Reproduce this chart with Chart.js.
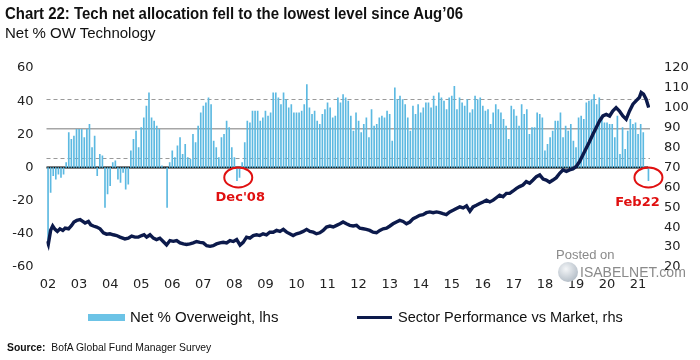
<!DOCTYPE html>
<html>
<head>
<meta charset="utf-8">
<script src="https://cdn.jsdelivr.net/npm/chart.js@4.4.1/dist/chart.umd.min.js"></script>
<style>
  body { margin: 0; background: #fff; }
  #wrap { position: relative; width: 700px; height: 360px; overflow: hidden; font-family: "Liberation Sans", Arial, sans-serif; color: #111; }
  #graph { position: absolute; left: 0; top: 0; }
  .txt { position: absolute; white-space: nowrap; line-height: 1; transform-origin: 0 0; }
  #title { left: 5px; top: 6px; font-size: 16px; font-weight: bold; transform: scaleX(0.935); }
  #subtitle { left: 5px; top: 25px; font-size: 15px; }
  .swatch { position: absolute; }
  #source { left: 7px; top: 342px; font-size: 11.5px; transform: scaleX(0.9); }
  .wm { color: #8a8a8a; }
</style>
</head>
<body>
<div id="wrap">
  <canvas id="graph" width="700" height="360"></canvas>
  <div class="txt" id="title">Chart 22: Tech net allocation fell to the lowest level since Aug’06</div>
  <div class="txt" id="subtitle">Net % OW Technology</div>

  <div class="swatch" style="left:88px;top:314px;width:37px;height:7px;background:#6cc3e6"></div>
  <div class="txt" style="left:130px;top:309px;font-size:15px">Net % Overweight, lhs</div>
  <div class="swatch" style="left:357px;top:316px;width:35px;height:3px;background:#0c1a4b"></div>
  <div class="txt" style="left:398px;top:309px;font-size:15px;transform:scaleX(0.97)">Sector Performance vs Market, rhs</div>

  <div class="txt" id="source"><b>Source:</b>&nbsp; BofA Global Fund Manager Survey</div>

  <div class="txt wm" style="left:556px;top:248px;font-size:13px">Posted on</div>
  <div class="swatch" style="left:558px;top:262px;width:20px;height:20px;border-radius:50%;background:radial-gradient(circle at 40% 35%, #f4f6f8, #b9c2cb 70%, #9aa6b0)"></div>
  <div class="txt wm" style="left:580px;top:265px;font-size:14px">ISABELNET.com</div>
</div>

<script>
// months counted from the first survey bar (label "02")
var yearLabels = ['02', '03', '04', '05', '06', '07', '08', '09', '10', '11',
                  '12', '13', '14', '15', '16', '17', '18', '19', '20', '21'];

// Net % overweight technology, one value per month (lhs)
var netOW = [
  -46, -15, -5, -7, -4, -6, -4, 3, 21, 17, 19, 23,
  23, 23, 18, 23, 26, 12, 19, -5, 8, 7, -24, -16,
  -11, 3, 4, -7, -9, -3, -13, -10, 10, 17, 22, 12,
  24, 30, 37, 45, 30, 28, 25, 23, 1, 0, -24, 3,
  10, 6, 13, 18, 8, 14, 6, 5, 20, 15, 25, 33,
  37, 39, 42, 38, 16, 12, 6, 18, 20, 28, 24, 12,
  6, -8, -6, 3, 15, 28, 27, 34, 34, 34, 28, 30,
  34, 31, 33, 45, 45, 42, 38, 45, 41, 36, 38, 33,
  33, 33, 34, 38, 50, 36, 32, 34, 28, 26, 32, 35,
  39, 36, 30, 31, 42, 39, 44, 42, 40, 31, 22, 33,
  28, 21, 26, 30, 18, 35, 25, 26, 30, 31, 30, 34,
  32, 16, 48, 41, 43, 41, 38, 30, 22, 37, 32, 38,
  33, 36, 39, 39, 36, 43, 37, 45, 42, 40, 35, 42,
  43, 49, 35, 42, 39, 37, 41, 33, 35, 43, 41, 42,
  37, 34, 35, 26, 33, 38, 35, 33, 29, 25, 17, 37,
  35, 31, 25, 38, 32, 35, 20, 24, 24, 33, 32, 30,
  10, 14, 18, 22, 28, 28, 33, 18, 25, 22, 26, 16,
  12, 30, 31, 29, 39, 40, 41, 44, 38, 42, 30, 27,
  27, 26, 26, 18, 31, 8, 24, 11, 22, 29, 26, 27,
  20, 26, 21, null, -8
];

// Sector performance vs market (rhs), read along the month scale
var perfMonths = [
  -0.3, 0.1, 1, 1.8, 2.7, 3.6, 4.6, 5.7, 6.6, 7.9, 9.1, 10, 11.1, 12.4, 13.4, 14.3, 15.6, 16.5, 17.5, 18.8,
  20.1, 21.4, 22.6, 23.9, 25.2, 26.5, 27.8, 29.7, 31, 32.3, 33.6, 34.9, 36.2, 37.1,
  38.1, 39.4, 40.7, 41.9, 43.2, 44.5, 45.8, 47.1, 48.4, 49.7, 51, 52.3, 53.5, 54.8, 56.1, 57.4, 58.7, 60,
  61.3, 62.6, 63.8, 65.1, 66.4, 67.7, 69, 70.3, 71.6, 72.9, 74.2,
  75.4, 76.7, 78, 79.3, 80.6, 81.8, 83.1, 84.4, 85.7, 87, 88.3, 89.6, 90.9, 92.2, 93.4, 94.7, 96, 97.3,
  98.6, 99.9, 101.2, 102.5, 103.7, 105, 106.3, 107.6, 108.9, 110.2, 111.5, 112.8,
  114, 115.3, 116.6, 117.9, 119.2, 120.5, 121.8, 123, 124.3, 125.6, 126.9, 128.2, 129.5, 130.8, 132.1,
  133.3, 134.6, 135.9, 137.2, 138.5, 139.8, 141.1, 142.4, 143.6, 144.9, 146.2, 147.5, 148.8, 150.1, 151.4,
  152.6, 153.9, 155.2, 156.5, 157.8, 159.1, 160.4, 161.7, 163, 164.2, 165.5, 166.8, 168.1, 169.4, 170.7,
  172, 173.2, 174.5, 175.8, 177.1, 178.4, 179.7, 181, 182.2, 183.5, 184.8, 186.1, 187.4, 188.7, 190,
  191.3, 192.5, 193.8, 195.1, 196.4, 197.7, 199, 200.3, 201.5, 202.8, 204.1, 205.4, 206.7, 208, 209.2,
  210.5, 211.8, 213.1, 214.4, 215.7, 217, 218.2, 219.5, 220.8, 222.1, 223.4, 224.7, 226, 227.2, 228.5,
  229.2, 230.1, 231.1, 232.1
];
var perfValues = [
  33, 31.5, 38.4, 40.6, 38.9, 37.9, 39.2, 38.4, 39.5, 39.2, 40.9, 42.6, 43.4, 43.8, 42.9, 42.1, 42.9, 41.2, 40.6, 40.1,
  39.2, 37.2, 36.5, 36.7, 36.2, 35.8, 35, 34.1, 34.5, 35.5, 35, 35, 35.8, 36.2,
  35, 36.2, 34.5, 33.8, 34.5, 32.8, 31.1, 33.3, 32.9, 33.3, 32.1, 31.6, 31.3, 31.6, 32.1, 32.8, 32.4, 32.1,
  30.7, 30.4, 30.7, 31.6, 32.1, 32.4, 32.1, 33.3, 32.8, 33.8, 31,
  32.4, 35, 34.5, 35.8, 36.2, 35.8, 36.7, 36.2, 37.5, 37.5, 38.4, 37.9, 38.9, 37.5, 36.7, 35.8, 36.7, 37.2,
  37.9, 38.9, 37.9, 37.5, 36.7, 37.2, 38.4, 40.1, 40.6, 40.1, 40.9, 41.7,
  42.6, 41.7, 40.9, 40.6, 40.9, 39.5, 39.2, 38.9, 38.4, 37.5, 37.2, 38.4, 39.2, 39.5, 40.6,
  41.7, 42.6, 43.4, 42.9, 41.7, 42.6, 44.3, 45.1, 46, 46.3, 47.3, 47.7, 47.3, 47.7, 47.3,
  46.8, 46.3, 47.7, 48.5, 49.4, 50.2, 49.7, 50.7, 48, 50.2, 51, 51.9, 52.7, 53.6, 52.7,
  53.6, 54.8, 56.1, 55.3, 57, 57, 58.2, 59.5, 60.4, 61.2, 62.9, 62.1, 63.7, 65.4, 66.3,
  64.2, 63.7, 62.6, 63.7, 64.9, 67.1, 68.8, 68, 68.8, 69.3, 70.5, 73, 76.4, 79.8, 82.9,
  86.6, 90, 93.4, 95.9, 96.7, 95.9, 98.4, 100.1, 98.4, 95.9, 94.2, 98.4, 101.8, 103.5, 105.2,
  107.7, 106.9, 104.3, 100.1
];

// long-run average and +/- 1 st.dev. lines on the lhs
var meanLevel = 23.4;
var bandLevels = [41.5, 5.6];

// circled readings
var noteLabels = ["Dec'08", 'Feb22'];
var noteMonths = [73.5, 232];
var noteValues = [-6, -6];

var overlay = {
    id: 'overlay',
    beforeDatasetsDraw: function (chart) {
        var ctx = chart.ctx, a = chart.chartArea, y = chart.scales.y;
        ctx.save();
        ctx.lineWidth = 1.2;
        ctx.strokeStyle = '#9a9a9a';
        ctx.setLineDash([4, 3]);
        bandLevels.forEach(function (lv) {
            var py = Math.round(y.getPixelForValue(lv)) + 0.5;
            ctx.beginPath(); ctx.moveTo(a.left, py); ctx.lineTo(a.right, py); ctx.stroke();
        });
        ctx.setLineDash([]);
        ctx.lineWidth = 1.6;
        ctx.strokeStyle = '#a6a6a6';
        var pm = y.getPixelForValue(meanLevel);
        ctx.beginPath(); ctx.moveTo(a.left, pm); ctx.lineTo(a.right, pm); ctx.stroke();
        ctx.lineWidth = 1.8;
        ctx.strokeStyle = '#000';
        var pz = y.getPixelForValue(0);
        ctx.beginPath(); ctx.moveTo(a.left, pz); ctx.lineTo(a.right - 2, pz); ctx.stroke();
        ctx.restore();
    },
    afterDraw: function (chart) {
        var ctx = chart.ctx, x = chart.scales.x, y = chart.scales.y;
        var textShift = [[2, 20], [-11, 25]];
        ctx.save();
        ctx.strokeStyle = '#e01010';
        ctx.fillStyle = '#e01010';
        ctx.lineWidth = 2;
        ctx.font = 'bold 13px "DejaVu Sans", sans-serif';
        ctx.textAlign = 'center';
        ctx.textBaseline = 'middle';
        noteLabels.forEach(function (lbl, k) {
            var cx = x.getPixelForValue(noteMonths[k]);
            var cy = y.getPixelForValue(noteValues[k]);
            ctx.beginPath();
            ctx.ellipse(cx, cy, 14, 10, 0, 0, Math.PI * 2);
            ctx.stroke();
            ctx.fillText(lbl, cx + textShift[k][0], cy + textShift[k][1]);
        });
        ctx.restore();
    }
};

var tickFont = { family: '"DejaVu Sans", sans-serif', size: 13 };

var config = {
    type: 'bar',
    data: {
        datasets: [{
            type: 'line',
            label: 'Sector Performance vs Market, rhs',
            data: perfMonths.map(function (m, k) { return { x: m, y: perfValues[k] }; }),
            yAxisID: 'y2',
            borderColor: '#0c1a4b',
            borderWidth: 3.4,
            pointRadius: 0,
            tension: 0,
            order: 0
        }, {
            type: 'bar',
            label: 'Net % Overweight, lhs',
            data: netOW.map(function (v, i) { return { x: i, y: v }; }),
            yAxisID: 'y',
            backgroundColor: '#5cb9e1',
            barThickness: 1,
            order: 1
        }]
    },
    options: {
        responsive: false,
        animation: false,
        layout: { padding: { top: 68, bottom: 60, left: 0, right: 0 } },
        plugins: { legend: { display: false }, tooltip: { enabled: false } },
        scales: {
            x: {
                type: 'linear',
                offset: false,
                min: -0.6,
                max: 232.6,
                grid: { display: false, drawTicks: false, offset: false },
                border: { display: false },
                afterBuildTicks: function (s) {
                    s.ticks = yearLabels.map(function (l, k) { return { value: k * 12 }; });
                },
                afterFit: function (s) { s.height = 33; },
                ticks: {
                    autoSkip: false,
                    maxRotation: 0,
                    padding: 10,
                    color: '#222',
                    font: tickFont,
                    callback: function (v, idx) { return yearLabels[idx]; }
                }
            },
            y: {
                position: 'left',
                min: -60,
                max: 60,
                grid: { display: false, drawTicks: false },
                border: { display: false },
                afterFit: function (s) { s.width = 46.5; },
                ticks: { stepSize: 20, padding: 13, color: '#222', font: tickFont }
            },
            y2: {
                position: 'right',
                min: 20,
                max: 120,
                grid: { display: false, drawTicks: false },
                border: { display: false },
                afterFit: function (s) { s.width = 50; },
                ticks: { stepSize: 10, padding: 14, color: '#222', font: tickFont }
            }
        }
    },
    plugins: [overlay]
};

document.addEventListener("DOMContentLoaded", function () {
    var ctx = document.getElementById('graph').getContext('2d');
    var techChart = new Chart(ctx, config);
});
</script>
</body>
</html>
